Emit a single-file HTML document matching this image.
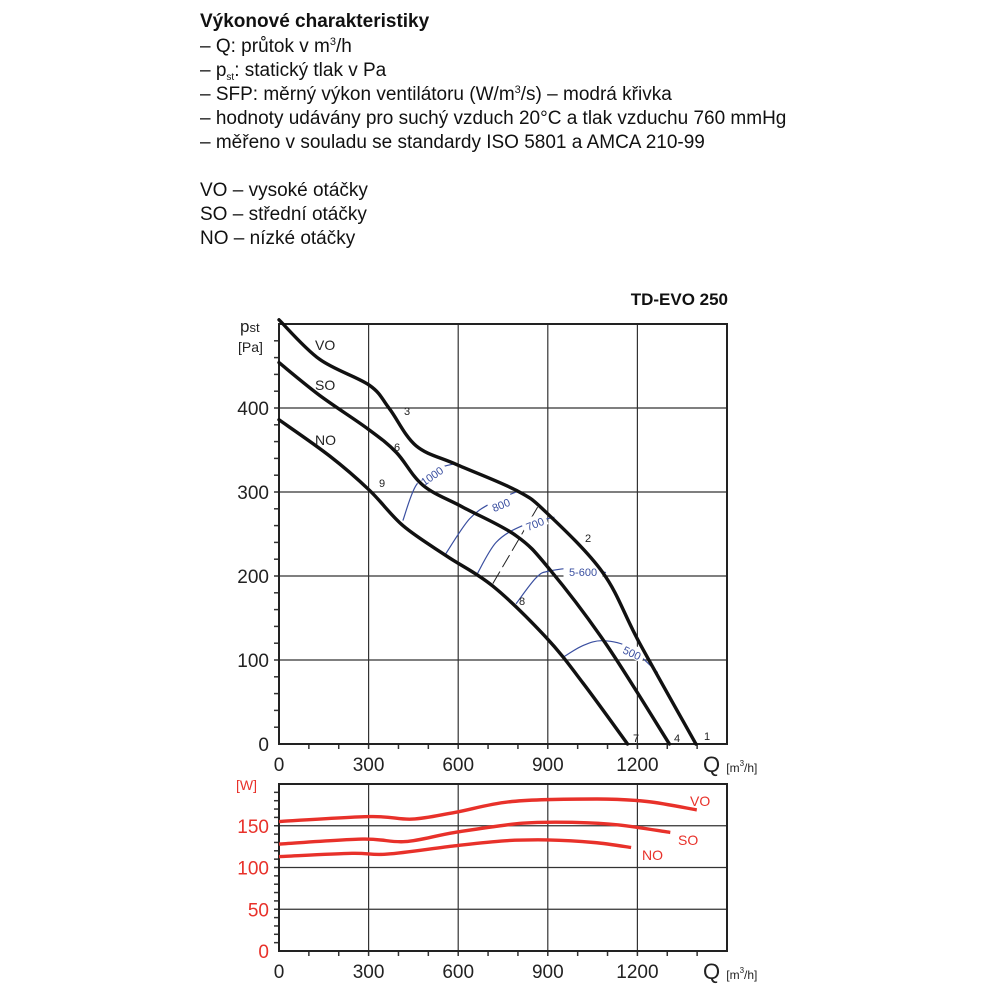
<!DOCTYPE html>
<html><head><meta charset="utf-8"><style>
html,body{margin:0;padding:0;background:#fff}
svg{display:block}
text{font-family:"Liberation Sans",sans-serif}
</style></head><body>
<svg id="s" width="1000" height="1000" viewBox="0 0 1000 1000" xmlns="http://www.w3.org/2000/svg">
<g font-size="19" fill="#111">
<text x="200" y="27" font-weight="bold">Výkonové charakteristiky</text>
<text x="200" y="52">– Q: průtok v m<tspan font-size="11" dy="-7">3</tspan><tspan dy="7">/h</tspan></text>
<text x="200" y="76">– p<tspan font-size="10" dy="4">st</tspan><tspan dy="-4">: statický tlak v Pa</tspan></text>
<text x="200" y="100">– SFP: měrný výkon ventilátoru (W/m<tspan font-size="11" dy="-7">3</tspan><tspan dy="7">/s) – modrá křivka</tspan></text>
<text x="200" y="124">– hodnoty udávány pro suchý vzduch 20°C a tlak vzduchu 760 mmHg</text>
<text x="200" y="148">– měřeno v souladu se standardy ISO 5801 a AMCA 210-99</text>
<text x="200" y="196">VO – vysoké otáčky</text>
<text x="200" y="220">SO – střední otáčky</text>
<text x="200" y="244">NO – nízké otáčky</text>
</g>
<text x="728" y="305" text-anchor="end" font-size="17" font-weight="bold" fill="#111">TD-EVO 250</text>
<g id="topg"></g>
<g id="botg"></g>
</svg>
<script>
// ---- pressure chart data ----
const xTicks = [0,300,600,900,1200];
const pTicks = [0,100,200,300,400];
const wTicks = [0,50,100,150];
const voQ = [0,136,303,370,459,593,794,894,1084,1206,1396];
const voP = [505,458,427,399,355,333,302,276,204,121,0];
const soQ = [0,136,298,393,482,615,794,906,1095,1307];
const soP = [454,415,375,347,308,282,248,208,119,0];
const noQ = [0,169,303,415,560,716,894,1017,1167];
const noP = [386,343,302,260,224,188,127,73,0];
const sfpLabels = ["1000","800","700","600","500"];
const sfp1000Q=[415,459,526,593], sfp1000P=[266,308,327,334];
const sfp800Q=[554,638,716,794], sfp800P=[224,268,288,300];
const sfp700Q=[660,727,816,922], sfp700P=[200,240,260,270];
const sfp600Q=[794,861,906,1017,1095], sfp600P=[167,198,206,210,204];
const sfp500Q=[950,1017,1084,1173,1268], sfp500P=[103,117,123,115,85];
// ---- power chart data ----
const pwVoQ=[0,304,446,589,780,1065,1232,1399], pwVoW=[155,161,158,166,179,182,179,169];
const pwSoQ=[0,280,423,589,815,994,1137,1310], pwSoW=[128,134,131,142,153,154,151,142];
const pwNoQ=[0,244,363,589,756,899,1054,1179], pwNoW=[113,117,116,126,132,133,130,124];

const NS="http://www.w3.org/2000/svg";
const X0=279, X1=727;
const sx=q=>X0+q*(X1-X0)/1500;
const TY0=744, TY1=324; const sy=p=>TY0-p*(TY0-TY1)/500;
const BY0=951, BY1=784; const sw=w=>BY0-w*(BY0-BY1)/200;
function mk(tag,attrs,parent){const e=document.createElementNS(NS,tag);for(const k in attrs)e.setAttribute(k,attrs[k]);parent.appendChild(e);return e;}
function smooth(pts){let d="M"+pts[0][0].toFixed(1)+","+pts[0][1].toFixed(1);
 for(let i=0;i<pts.length-1;i++){const p0=pts[Math.max(0,i-1)],p1=pts[i],p2=pts[i+1],p3=pts[Math.min(pts.length-1,i+2)];
 const c1=[p1[0]+(p2[0]-p0[0])/6,p1[1]+(p2[1]-p0[1])/6],c2=[p2[0]-(p3[0]-p1[0])/6,p2[1]-(p3[1]-p1[1])/6];
 d+="C"+c1.map(v=>v.toFixed(1))+" "+c2.map(v=>v.toFixed(1))+" "+p2.map(v=>v.toFixed(1));}return d;}
const topG=document.getElementById('topg'), botG=document.getElementById('botg');

function grid(g,syf,ticks,maxV,minorStep,color,yb,yt,prefix){
 ticks.forEach(t=>{ if(t>0){const l=mk('line',{x1:X0,x2:X1,y1:syf(t),y2:syf(t),stroke:'#333','stroke-width':1.2},g);
   }
  const tx=mk('text',{x:X0-10,y:syf(t)+7,'text-anchor':'end','font-size':19,fill:color},g);tx.textContent=t;
  });
 xTicks.forEach(q=>{ if(q>0){const l=mk('line',{x1:sx(q),x2:sx(q),y1:yb,y2:yt,stroke:'#333','stroke-width':1.2},g);
   }
  const tx=mk('text',{x:sx(q),y:yb+27,'text-anchor':'middle','font-size':19,fill:'#222'},g);tx.textContent=q;
  });
 for(let q=100;q<1500;q+=100){const l=mk('line',{x1:sx(q),x2:sx(q),y1:yb,y2:yb+5,stroke:'#333','stroke-width':1.5},g);
  }
 for(let v=minorStep;v<maxV;v+=minorStep){const l=mk('line',{x1:X0-5,x2:X0,y1:syf(v),y2:syf(v),stroke:'#333','stroke-width':1.5},g);
  }
 const r=mk('rect',{x:X0,y:yt,width:X1-X0,height:yb-yt,fill:'none',stroke:'#222','stroke-width':2},g);
 
 const ql=mk('text',{x:X1-24,y:yb+28,'font-size':22,fill:'#222'},g);ql.innerHTML='Q <tspan font-size="12">[m</tspan><tspan font-size="8" dy="-6">3</tspan><tspan font-size="12" dy="6">/h]</tspan>';
 
}
grid(topG,sy,pTicks,500,20,'#222',TY0,TY1,'pressure');
grid(botG,sw,wTicks,200,10,'#e8312a',BY0,BY1,'power');

// y titles
let t=mk('text',{x:240,y:332,'font-size':17,fill:'#222'},topG);t.innerHTML='p<tspan font-size="13">st</tspan>';

t=mk('text',{x:238,y:352,'font-size':14,fill:'#222'},topG);t.textContent='[Pa]';

t=mk('text',{x:236,y:790,'font-size':14,fill:'#e8312a'},botG);t.textContent='[W]';


// SFP curves
const sfpSets=[[sfp1000Q,sfp1000P],[sfp800Q,sfp800P],[sfp700Q,sfp700P],[sfp600Q,sfp600P],[sfp500Q,sfp500P]];
sfpSets.forEach((s,i)=>{const pts=s[0].map((q,j)=>[sx(q),sy(s[1][j])]);
 const p=mk('path',{d:smooth(pts),fill:'none',stroke:'#3a4fa0','stroke-width':1.2},topG);
 });
// dashed black line
const dl=mk('line',{x1:sx(716),y1:sy(191),x2:sx(866),y2:sy(282),stroke:'#222','stroke-width':1,'stroke-dasharray':'14,5'},topG);


// SFP labels (with white background) — drawn before black curves
const blab=[["1000",432,476,-35],["800",501,505,-22],["700",535,524,-22],["5-600",583,572,0],["500",632,653,25]];
blab.forEach(b=>{const g=mk('g',{transform:`translate(${b[1]},${b[2]}) rotate(${b[3]})`},topG);
 const w=b[0].length*7+4;mk('rect',{x:-w/2,y:-8,width:w,height:13,fill:'#fff'},g);
 const tx=mk('text',{x:0,y:4,'text-anchor':'middle','font-size':11,fill:'#3a4fa0'},g);tx.textContent=b[0];
 });

// black fan curves
[[voQ,voP,'vo'],[soQ,soP,'so'],[noQ,noP,'no']].forEach(s=>{const pts=s[0].map((q,j)=>[sx(q),sy(s[1][j])]);
 const p=mk('path',{d:smooth(pts),fill:'none',stroke:'#111','stroke-width':3.4,'stroke-linecap':'round'},topG);
 });
// power curves
[[pwVoQ,pwVoW,'vo'],[pwSoQ,pwSoW,'so'],[pwNoQ,pwNoW,'no']].forEach(s=>{const pts=s[0].map((q,j)=>[sx(q),sw(s[1][j])]);
 const p=mk('path',{d:smooth(pts),fill:'none',stroke:'#e8312a','stroke-width':3.4},botG);
 });

// point numbers
const nums=[["3",407,415],["6",397,451],["9",382,487],["2",588,542],["8",522,605],["7",636,742],["4",677,742],["1",707,740]];
nums.forEach(n=>{const tx=mk('text',{x:n[1],y:n[2],'text-anchor':'middle','font-size':11,fill:'#222'},topG);tx.textContent=n[0];
 });
// curve names
[["VO",315,350],["SO",315,390],["NO",315,445]].forEach(n=>{const tx=mk('text',{x:n[1],y:n[2],'font-size':14,fill:'#222'},topG);tx.textContent=n[0];
 });
[["VO",690,806],["SO",678,845],["NO",642,860]].forEach(n=>{const tx=mk('text',{x:n[1],y:n[2],'font-size':14,fill:'#e8312a'},botG);tx.textContent=n[0];
 });
</script>
</body></html>
